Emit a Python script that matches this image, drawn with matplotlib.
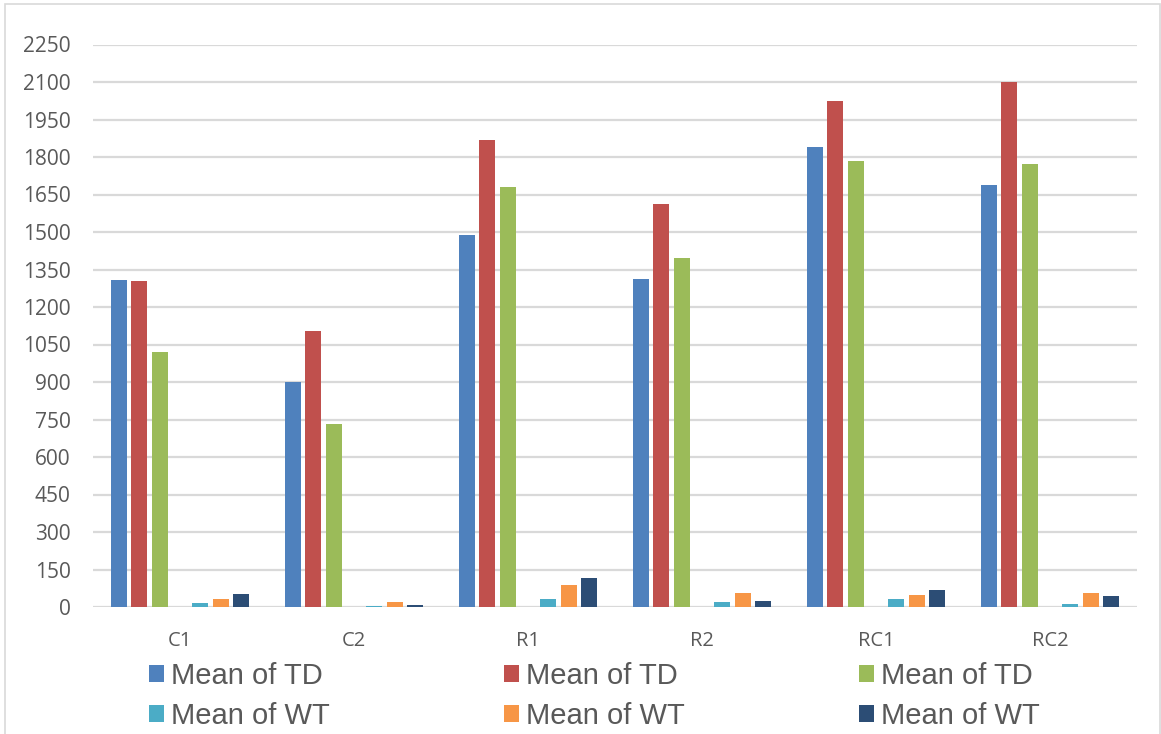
import matplotlib
matplotlib.use("Agg")
import matplotlib.pyplot as plt
from matplotlib.patches import Rectangle, Patch
import numpy as np

categories = ["C1", "C2", "R1", "R2", "RC1", "RC2"]

td_1 = [1310, 900, 1490, 1313, 1840, 1688]
td_2 = [1305, 1105, 1867, 1613, 2023, 2102]
td_3 = [1022, 733, 1680, 1396, 1785, 1773]
wt_1 = [17, 4, 31, 21, 32, 12]
wt_2 = [32, 19, 88, 56, 48, 57]
wt_3 = [52, 8, 115, 25, 68, 44]

series_labels = ["Mean of TD", "Mean of TD", "Mean of TD",
                 "Mean of WT", "Mean of WT", "Mean of WT"]
yticks = [0, 150, 300, 450, 600, 750, 900, 1050, 1200, 1350,
          1500, 1650, 1800, 1950, 2100, 2250]

colors = ["#4F81BD", "#C0504D", "#9BBB59", "#4BACC6", "#F79646", "#2C4D75"]
# seven slots per category; the middle one stays empty
slots = [0, 1, 2, 4, 5, 6]
series = [td_1, td_2, td_3, wt_1, wt_2, wt_3]

W, H = 1161, 734
fig = plt.figure(figsize=(W / 100, H / 100), dpi=100)
fig.patch.set_facecolor("white")

# chart frame
fig.add_artist(Rectangle((5 / W, -0.01), (1160 - 5) / W, 1 - 4 / H + 0.01,
                         transform=fig.transFigure, fill=False,
                         edgecolor="#D9D9D9", linewidth=1.2))

ax = fig.add_axes([93 / W, (H - 607) / H, (1137 - 93) / W, (607 - 44.5) / H])
x = np.arange(len(categories))
pitch = 0.117
width = 0.092
for vals, slot, c, lab in zip(series, slots, colors, series_labels):
    ax.bar(x + (slot - 3) * pitch, vals, width=width, color=c,
           edgecolor="none", zorder=3, label=lab)

ax.set_xlim(-0.5, len(categories) - 0.5)
ax.set_ylim(0, 2250)
ax.set_yticks(yticks)
ax.set_xticks(x)
ax.set_xticklabels(categories)
ax.grid(axis="y", color="#D9D9D9", linewidth=1.6, zorder=0)
ax.set_axisbelow(True)
for s in ax.spines.values():
    s.set_visible(False)
ax.tick_params(axis="both", length=0, colors="#595959")
ax.tick_params(axis="y", pad=16, labelsize=15)
ax.tick_params(axis="x", pad=17, labelsize=14.5)
for t in ax.get_xticklabels() + ax.get_yticklabels():
    t.set_fontfamily("Open Sans")

# legend: three columns, TD on the first row, WT on the second
order = [0, 3, 1, 4, 2, 5]
leg = fig.legend([Patch(facecolor=colors[i]) for i in order],
                 [series_labels[i] for i in order],
                 loc="upper left", bbox_to_anchor=(149 / W, 1 - 662 / H),
                 ncol=3, frameon=False,
                 prop={"family": "Liberation Sans", "size": 21},
                 handlelength=0.51, handleheight=0.51, handletextpad=0.24,
                 columnspacing=5.98, labelspacing=0.42, borderpad=0,
                 borderaxespad=0)
for t in leg.get_texts():
    t.set_color("#595959")

fig.savefig("out.png", dpi=100, facecolor="white")
